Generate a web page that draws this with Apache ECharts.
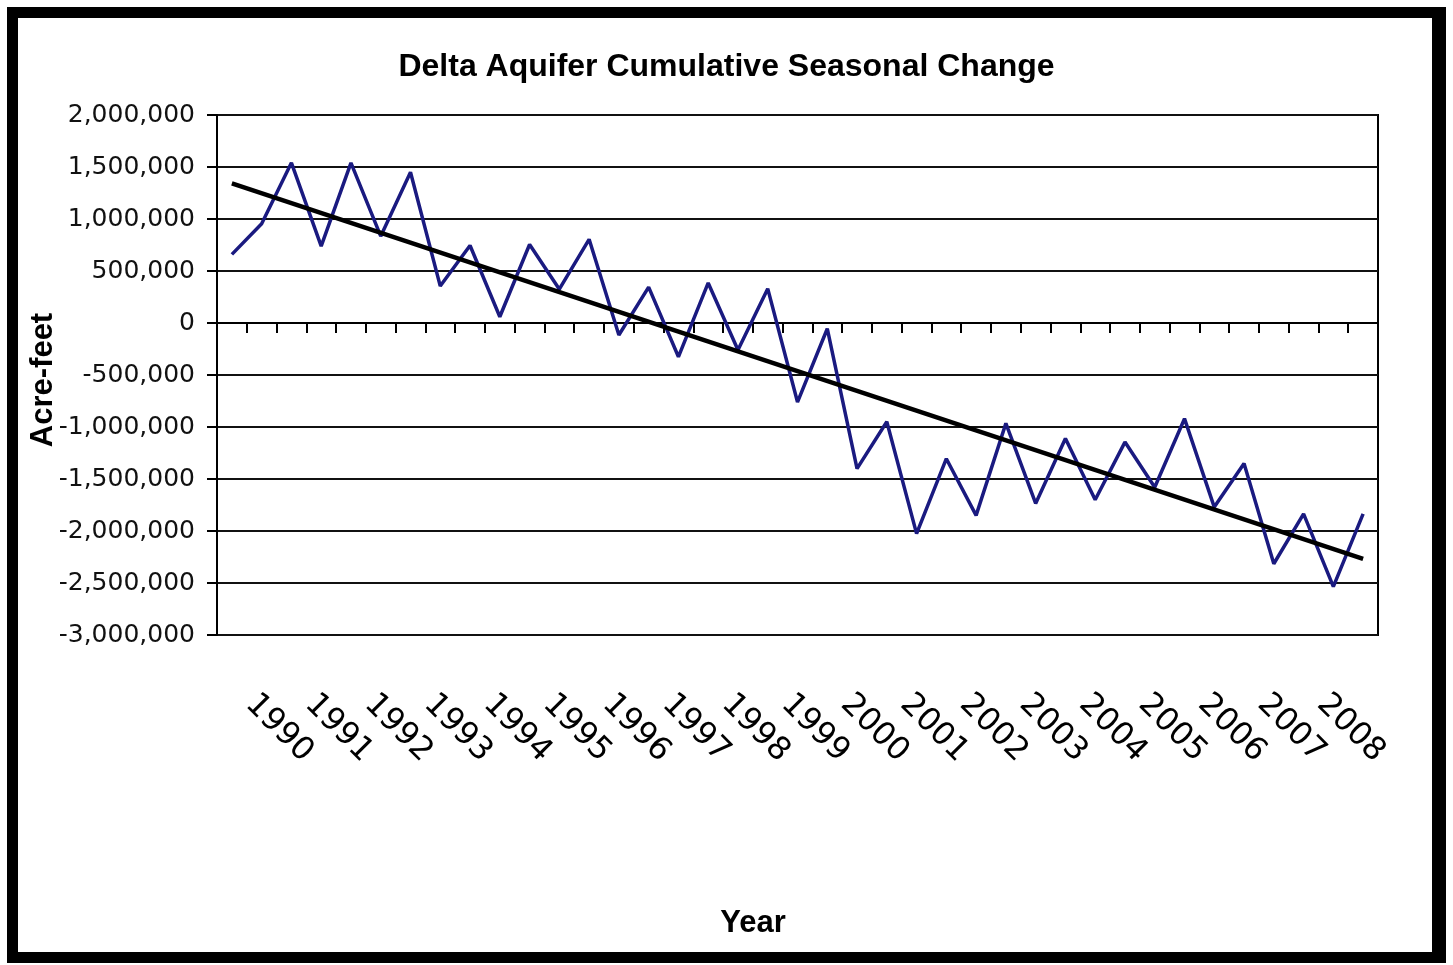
<!DOCTYPE html>
<html>
<head>
<meta charset="utf-8">
<title>Delta Aquifer Cumulative Seasonal Change</title>
<script src="https://cdn.jsdelivr.net/npm/echarts@6/dist/echarts.min.js"></script>
<style>
  html, body { margin: 0; padding: 0; background: #fff; }
  #frame {
    position: absolute; left: 7px; top: 7px;
    width: 1414px; height: 934px;
    border-style: solid; border-color: #000;
    border-width: 11px 14px 11px 11px;
  }
  #chart { position: absolute; left: 0; top: 0; width: 1453px; height: 965px; }
</style>
</head>
<body>
<div id="frame"></div>
<div id="chart"></div>
<script>
// Year labels shown under the plot (one per two seasonal readings)
const yearLabels = ['1990', '1991', '1992', '1993', '1994', '1995', '1996', '1997', '1998', '1999',
                    '2000', '2001', '2002', '2003', '2004', '2005', '2006', '2007', '2008'];

// Cumulative seasonal change, acre-feet (spring / fall readings)
const seasonalChange = [
  660000, 955000, 1540000, 740000, 1540000, 835000, 1450000, 355000, 745000, 60000,
  755000, 325000, 805000, -115000, 345000, -325000, 385000, -260000, 330000, -760000,
  -55000, -1400000, -950000, -2025000, -1305000, -1850000, -965000, -1735000, -1110000, -1700000,
  -1145000, -1580000, -920000, -1770000, -1350000, -2315000, -1835000, -2535000, -1835000
];

// Linear trend end points (first and last reading)
const trendEnds = [1343000, -2267000];

// Y axis range
const yMin = -3000000, yMax = 2000000, yStep = 500000;

const categories = seasonalChange.map((_, i) => String(1990 + i / 2));
const trendData = [[0, trendEnds[0]], [seasonalChange.length - 1, trendEnds[1]]];

const chart = echarts.init(document.getElementById('chart'), null, { renderer: 'canvas' });

const sans = '"Liberation Sans", Arial, sans-serif';
const dejavu = '"DejaVu Sans", "Liberation Sans", sans-serif';

chart.setOption({
  animation: false,
  backgroundColor: 'transparent',
  title: {
    text: 'Delta Aquifer Cumulative Seasonal Change',
    left: 'center',
    top: 51,
    padding: 0,
    textStyle: { fontFamily: sans, fontWeight: 'bold', fontSize: 32, color: '#000' }
  },
  grid: {
    left: 217, top: 115, width: 1161, height: 520,
    show: true, borderColor: '#000', borderWidth: 2, backgroundColor: '#fff'
  },
  xAxis: [
    {
      // axis line + ticks along the zero line
      type: 'category',
      data: categories,
      boundaryGap: true,
      position: 'bottom',
      axisLine: { show: true, onZero: true, lineStyle: { color: '#000', width: 2 } },
      axisTick: { show: true, interval: 0, length: 10, lineStyle: { color: '#000', width: 2 } },
      axisLabel: { show: false },
      splitLine: { show: false }
    },
    {
      // year labels along the bottom of the plot
      type: 'category',
      data: categories,
      boundaryGap: true,
      position: 'bottom',
      axisLine: { show: false, onZero: false },
      axisTick: { show: false },
      splitLine: { show: false },
      axisLabel: {
        show: true,
        interval: 0,
        rotate: -45,
        margin: 46,
        padding: [0, 0, 0, 26],
        fontFamily: dejavu,
        fontSize: 32,
        color: '#000',
        formatter: v => (yearLabels.includes(v) ? v : '')
      }
    }
  ],
  yAxis: {
    type: 'value',
    min: yMin, max: yMax, interval: yStep,
    name: 'Acre-feet',
    nameLocation: 'middle',
    nameRotate: 90,
    nameGap: 158,
    nameMoveOverlap: false,
    nameTextStyle: { fontFamily: sans, fontWeight: 'bold', fontSize: 31, color: '#000', padding: [0, 10, 0, 0] },
    axisLine: { show: true, lineStyle: { color: '#000', width: 2 } },
    axisTick: { show: true, length: 10, lineStyle: { color: '#000', width: 2 } },
    axisLabel: {
      margin: 22,
      fontFamily: dejavu,
      fontSize: 25,
      color: '#111',
      formatter: v => v.toLocaleString('en-US')
    },
    splitLine: { show: true, lineStyle: { color: '#111', width: 2 } }
  },
  graphic: [
    {
      type: 'text',
      x: 753, y: 908,
      style: {
        text: 'Year',
        textAlign: 'center',
        textVerticalAlign: 'top',
        fontFamily: sans, fontWeight: 'bold', fontSize: 31, fill: '#000'
      }
    }
  ],
  series: [
    {
      name: 'Cumulative change',
      type: 'line',
      xAxisIndex: 0,
      data: seasonalChange,
      symbol: 'none',
      lineStyle: { color: '#1a1a80', width: 3.5 },
      z: 3
    },
    {
      name: 'Trend',
      type: 'line',
      xAxisIndex: 0,
      data: trendData,
      symbol: 'none',
      lineStyle: { color: '#000', width: 4.5 },
      z: 4
    }
  ]
});
</script>
</body>
</html>
